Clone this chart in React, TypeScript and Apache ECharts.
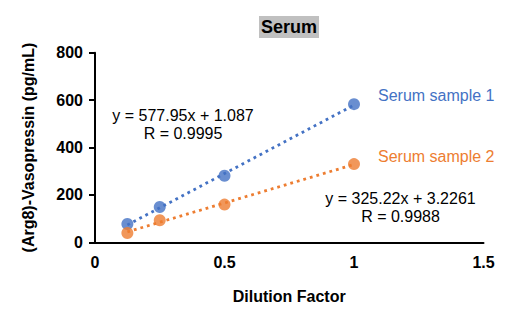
import React, { useEffect, useRef } from "react";
import * as echarts from "echarts";

const dilution = [0.125, 0.25, 0.5, 1];
const sample1 = [77, 149, 281, 583];
const sample2 = [39, 93, 159, 330];
const trend1 = [[0.125, 73.3], [1, 579.0]];
const trend2 = [[0.125, 43.9], [1, 328.4]];
const seriesNames = ["Serum sample 1", "Serum sample 2"];
const equations = ["y = 577.95x + 1.087\nR = 0.9995", "y = 325.22x + 3.2261\nR = 0.9988"];
const yTicks = [0, 200, 400, 600, 800];
const xTicks = [0, 0.5, 1, 1.5];

const BLUE = "#4472C4";
const ORANGE = "#ED7D31";
const FONT = "'Liberation Sans', Arial, sans-serif";

export default function App() {
  const ref = useRef<HTMLDivElement>(null);
  useEffect(() => {
    const chart = echarts.init(ref.current!, null, { renderer: "svg" });
    chart.setOption({
      animation: false,
      title: {
        text: "Serum",
        left: 259,
        top: 16,
        padding: [2, 2],
        backgroundColor: "#c0c0c0",
        textStyle: { fontFamily: FONT, fontSize: 18, fontWeight: "bold", color: "#000", lineHeight: 18 },
      },
      grid: { left: 95, right: 36.5, top: 52.7, bottom: 81.7 },
      xAxis: {
        type: "value",
        min: xTicks[0],
        max: xTicks[xTicks.length - 1],
        interval: 0.5,
        name: "Dilution Factor",
        nameLocation: "middle",
        nameGap: 46,
        nameTextStyle: { fontFamily: FONT, fontSize: 16, fontWeight: "bold", color: "#000" },
        axisLine: { lineStyle: { color: "#000", width: 2 } },
        axisTick: { show: false },
        splitLine: { show: false },
        axisLabel: { fontFamily: FONT, fontSize: 16, fontWeight: "bold", color: "#000", margin: 12 },
      },
      yAxis: {
        type: "value",
        min: yTicks[0],
        max: yTicks[yTicks.length - 1],
        interval: 200,
        name: "(Arg8)-Vasopressin (pg/mL)",
        nameLocation: "middle",
        nameGap: 59,
        nameRotate: 90,
        nameTextStyle: { fontFamily: FONT, fontSize: 16, fontWeight: "bold", color: "#000" },
        axisLine: { show: true, lineStyle: { color: "#000", width: 2 } },
        axisTick: { show: true, length: 6, inside: false, lineStyle: { color: "#000", width: 2 } },
        splitLine: { show: false },
        axisLabel: { fontFamily: FONT, fontSize: 16, fontWeight: "bold", color: "#000", margin: 12 },
      },
      series: [
        {
          type: "line",
          data: trend1,
          symbol: "none",
          lineStyle: { color: BLUE, width: 2.8, type: [2.8, 4] },
          z: 1,
        },
        {
          type: "line",
          data: trend2,
          symbol: "none",
          lineStyle: { color: ORANGE, width: 2.8, type: [2.8, 4] },
          z: 1,
        },
        {
          type: "scatter",
          name: seriesNames[0],
          data: dilution.map((x, i) => [x, sample1[i]]),
          symbolSize: 12,
          itemStyle: { color: BLUE },
          z: 2,
        },
        {
          type: "scatter",
          name: seriesNames[1],
          data: dilution.map((x, i) => [x, sample2[i]]),
          symbolSize: 12,
          itemStyle: { color: ORANGE },
          z: 2,
        },
      ],
      graphic: [
        {
          type: "text",
          left: 378,
          top: 87,
          style: { text: seriesNames[0], fill: BLUE, font: `16px ${FONT}` },
        },
        {
          type: "text",
          left: 378,
          top: 148,
          style: { text: seriesNames[1], fill: ORANGE, font: `16px ${FONT}` },
        },
        {
          type: "text",
          x: 183,
          y: 106,
          style: { text: equations[0], fill: "#000", font: `16px ${FONT}`, align: "center", lineHeight: 18 },
        },
        {
          type: "text",
          x: 400.5,
          y: 189,
          style: { text: equations[1], fill: "#000", font: `16px ${FONT}`, align: "center", lineHeight: 18 },
        },
      ],
    });
    return () => chart.dispose();
  }, []);
  return (
    <div
      ref={ref}
      style={{ position: "fixed", left: 0, top: 0, width: 520, height: 324, background: "#fff" }}
    />
  );
}
